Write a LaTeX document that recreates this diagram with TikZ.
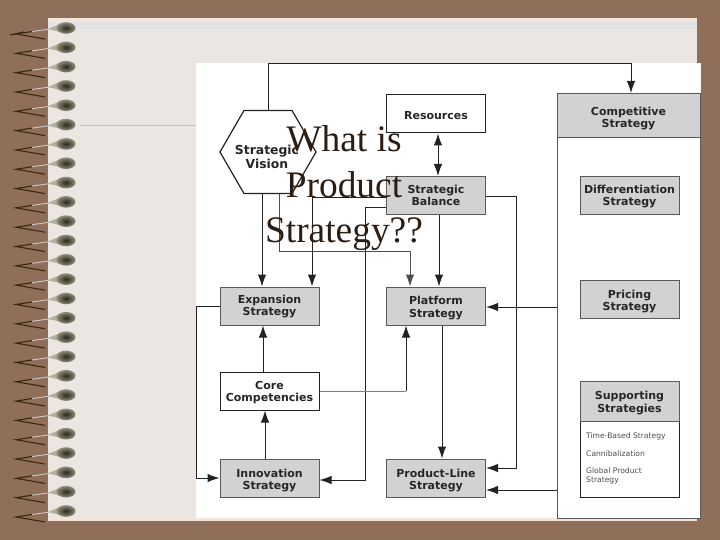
\documentclass[tikz,border=0pt]{standalone}
\usepackage{fontspec}
\setmainfont{Liberation Serif}
\newfontfamily\boxfont{DejaVu Sans}
\usetikzlibrary{arrows.meta,shapes.geometric}
\definecolor{slidebrown}{HTML}{8F6F59}
\definecolor{slidepaper}{HTML}{EBE6E1}
\definecolor{slidepeach}{HTML}{F3E5D9}
\definecolor{slidelilac}{HTML}{E3E3E6}
\definecolor{boxgrey}{HTML}{D2D2D2}
\definecolor{linedark}{HTML}{222222}
\definecolor{titleink}{HTML}{2B1D14}
\definecolor{beaddark}{HTML}{2A281C}
\definecolor{beadedge}{HTML}{8E8E7A}
\newcommand{\dropby}[1]{\rule{0pt}{#1pt}}
\tikzset{
  >={Latex[length=12pt,width=8.5pt]},
  boxtext/.style={font=\boxfont\bfseries\fontsize{11}{12.5}\selectfont,align=center,text=black!85},
  whitebox/.style={boxtext,draw=linedark,line width=1pt,fill=white,minimum width=99pt,minimum height=38pt,inner sep=0pt},
  greybox/.style={whitebox,fill=boxgrey,draw=black!65},
  smalltext/.style={font=\boxfont\fontsize{7.6}{9.5}\selectfont,align=left,anchor=west,inner sep=0pt,text=black!70},
  conn/.style={draw=linedark,line width=1pt},
  wirelight/.style={draw=white!80!black,line width=.9pt},
  wiredark/.style={draw=black!70!brown,line width=1.1pt},
}
\begin{document}
\begin{tikzpicture}[x=1pt,y=-1pt]
\useasboundingbox (0,0) rectangle (720,540);
\fill[slidebrown] (0,0) rectangle (720,540);
\fill[slidepaper] (48,18) rectangle (697,521);
\fill[slidepeach] (48,18) rectangle (697,22);
\fill[slidelilac] (48,22) rectangle (697,29);
\fill[slidepeach] (48,518) rectangle (697,521);
\draw[color=olive!45!white,line width=1pt] (80,126) -- (196,126);
\fill[white] (196,63) rectangle (701,518);
%%%%
\foreach \y in {0,...,25}{
\pgfmathsetmacro{\ring}{28+\y*19.32}
\draw[wirelight] (50,\ring+1) -- (32,\ring+3.5);
\draw[wiredark] (32,\ring+3.5) -- (16,\ring+6) -- (45,\ring+11);
\fill[beadedge!70!white] (60,\ring-4) -- (60,\ring+4) -- (48,\ring+1) -- cycle;
\shade[inner color=beaddark,outer color=beadedge] (66,\ring) ellipse [x radius=9.5,y radius=5.8];
}
\draw[wiredark] (10,35) -- (24,32);
%%%%
\node[greybox,fill=white,minimum width=143pt,minimum height=381pt] (competitivepanel) at (628.5,327.5) {};
\node[greybox,minimum width=143pt,minimum height=44pt] (competitive) at (628.5,115.5) {\dropby{14}Competitive\\Strategy};
\node[greybox] (differentiation) at (629.5,195.5) {\dropby{10.5}Differentiation\\Strategy};
\node[greybox] (pricing) at (629.5,299) {\dropby{13}Pricing\\Strategy};
\node[whitebox,minimum height=76pt] (supportingbody) at (629.5,459) {};
\node[greybox,minimum height=40pt] (supporting) at (629.5,401) {\dropby{12.5}Supporting\\Strategies};
\node[smalltext] (timebased) at (586,436) {Time-Based Strategy};
\node[smalltext] (cannibal) at (586,454) {Cannibalization};
\node[smalltext] (globalproduct) at (586,476) {Global Product\\Strategy};
%%%%
\node[whitebox] (resources) at (436,114) {\dropby{11.5}Resources};
\node[greybox] (balance) at (436,195.5) {Strategic\\Balance};
\node[greybox] (platform) at (436,306) {\dropby{12.5}Platform\\Strategy};
\node[greybox] (productline) at (436,478) {\dropby{13}Product-Line\\Strategy};
\node[greybox] (expansion) at (269.5,306) {\dropby{9.5}Expansion\\Strategy};
\node[whitebox] (core) at (269.5,391) {\dropby{11.5}Core\\Competencies};
\node[greybox] (innovation) at (269.5,478) {\dropby{13}Innovation\\Strategy};
\node[whitebox,regular polygon,regular polygon sides=6,minimum width=0pt,minimum height=0pt,minimum size=96pt,line width=1.2pt] (vision) at (268,152) {};
\node[boxtext,font=\boxfont\bfseries\fontsize{12.4}{14}\selectfont,inner sep=0pt] (visionlabel) at (267,156.5) {Strategic\\Vision};
%%%%
\draw[conn,->] (vision.north) -- (vision.north |- 0,63.5) -- (631,63.5) -- (competitive.north -| 631,0);
\draw[conn,<->] (resources.south -| 438,0) -- (balance.north -| 438,0);
\draw[conn,->] (vision.south -| 262,0) -- (expansion.north -| 262,0);
\draw[conn,draw=black!70,->] (vision.south -| 279,0) -- (279,251) -- (410,251) -- (platform.north -| 410,0);
\draw[conn,->] (balance.west |- 0,198) -- (312,198) -- (expansion.north -| 312,0);
\draw[conn,->] (balance.west |- 0,208) -- (365,208) -- (365,480) -- (innovation.east |- 0,480);
\draw[conn,->] (balance.south -| 439,0) -- (platform.north -| 439,0);
\draw[conn,->] (balance.east |- 0,197) -- (516,197) -- (516,468) -- (productline.east |- 0,468);
\draw[conn,->] (expansion.west |- 0,306) -- (196.5,306) -- (196.5,478) -- (innovation.west |- 0,478);
\draw[conn,->] (core.north -| 263,0) -- (expansion.south -| 263,0);
\draw[conn,->] (innovation.north -| 265,0) -- (core.south -| 265,0);
\draw[conn,line width=.6pt,draw=black!50] (core.east) -- (406,391);
\draw[conn,->] (406,391) -- (platform.south -| 406,0);
\draw[conn,->] (platform.south -| 442,0) -- (productline.north -| 442,0);
\draw[conn,->] (competitivepanel.west |- 0,307) -- (platform.east |- 0,307);
\draw[conn,->] (competitivepanel.west |- 0,490) -- (productline.east |- 0,490);
%%%%
\node[font=\fontsize{37.4}{45.5}\selectfont,align=center,text=titleink,inner sep=0pt] (title) at (344,188.5) {What is\\Product\\Strategy??};
\end{tikzpicture}
\end{document}
